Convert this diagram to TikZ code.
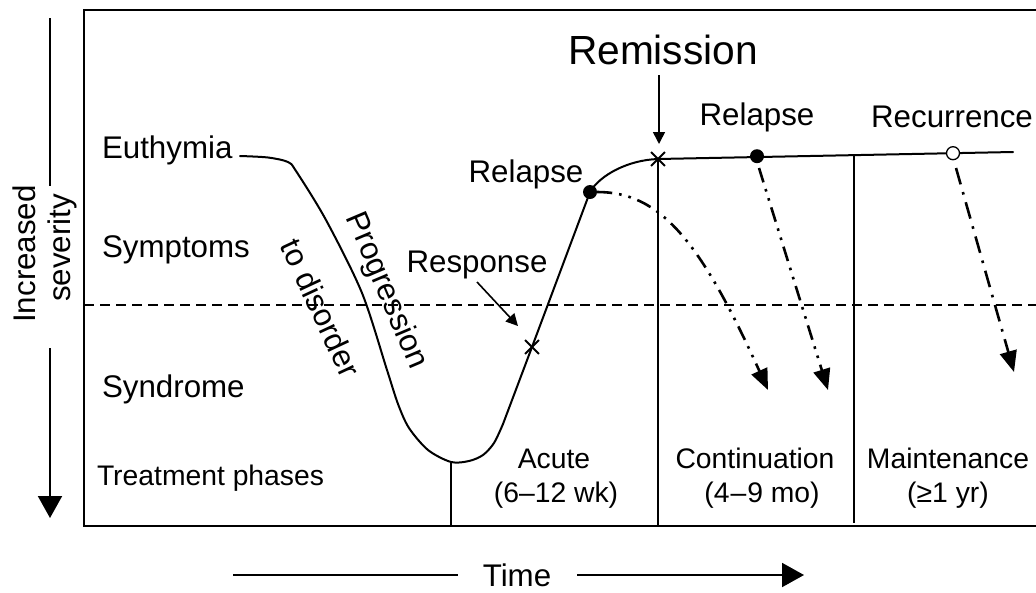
\documentclass[tikz,border=0pt]{standalone}
\usepackage{fontspec}
\setmainfont{Liberation Sans}
\usetikzlibrary{arrows.meta,shapes.misc}
\begin{document}
\begin{tikzpicture}[x=1pt,y=-1pt,
  lbl/.style={font=\fontsize{31.3}{36}\selectfont, inner sep=0pt, outer sep=0pt},
  sml/.style={font=\fontsize{28.3}{34}\selectfont, inner sep=0pt, outer sep=0pt},
  big/.style={font=\fontsize{40.7}{46}\selectfont, inner sep=0pt, outer sep=0pt},
  curve/.style={line width=2pt, line join=round, line cap=round},
  frameline/.style={line width=2pt},
  divider/.style={line width=2.4pt},
  xmark/.style={cross out, draw, line width=1.8pt, minimum size=12pt, inner sep=0pt},
  fdot/.style={circle, fill=black, minimum size=14pt, inner sep=0pt},
  odot/.style={circle, draw, fill=white, line width=1.3pt, minimum size=13pt, inner sep=0pt},
  ddarrow/.style={line width=2.6pt, dash pattern=on 15pt off 7pt on 2.6pt off 7pt on 2.6pt off 7pt, -{Triangle[length=21pt,width=17pt]}},
  darrow/.style={line width=2.6pt, dash pattern=on 17pt off 8pt on 2.6pt off 8pt, -{Triangle[length=21pt,width=17pt]}},
  thinarrow/.style={line width=1.6pt, -{Triangle[length=12pt,width=12pt]}},
  axisarrow/.style={line width=2pt, -{Triangle[length=22pt,width=24pt]}}
]
\useasboundingbox (0,0) rectangle (1036,592);

% frame
\draw[frameline] (1036,10) -- (84,10) -- (84,526) -- (1036,526);
\draw[line width=1.9pt, dash pattern=on 10pt off 6pt] (84,305) -- (1036,305);

% key points
\coordinate (start) at (240,156);
\coordinate (bot) at (451,462);
\coordinate (pxr) at (532,347);
\coordinate (pd1) at (590,192);
\coordinate (pxm) at (658,159);
\coordinate (pd2) at (757,156.2);
\coordinate (po1) at (953,153.2);
\coordinate (lineend) at (1013,152);

% vertical axis
\coordinate (axtop) at (50,18);
\coordinate (axtopend) at (50,186);
\coordinate (axbotstart) at (50,348);
\coordinate (axbotend) at (50,518);
\draw[line width=2pt] (axtop) -- (axtopend);
\draw[axisarrow] (axbotstart) -- (axbotend);
\node[lbl, rotate=90, anchor=base] (inc) at (35,254) {Increased};
\node[lbl, rotate=90, anchor=base] (sev) at (70,248) {severity};

% dividers
\coordinate (bot2) at (451,526);
\coordinate (xm2) at (658,526);
\coordinate (m1) at (854,154);
\coordinate (m2) at (854,523);
\draw[divider] (bot) -- (bot2);
\draw[divider] (pxm) -- (xm2);
\draw[divider] (m1) -- (m2);

% main curve
\draw[curve] plot[smooth, tension=0.5] coordinates {(240,156) (268,157.5) (288,162) (296,171) (326,220) (362,293) (387,370) (398,404) (409,428) (428,450) (451,462) (469,461) (483,455) (494,443) (503,424)}
  -- (pxr) -- (pd1) .. controls (600,175) and (628,160) .. (pxm) -- (lineend);

% markers
\node[xmark] (xresp) at (pxr) {};
\node[fdot] (d1) at (pd1) {};
\node[xmark] (xrem) at (pxm) {};
\node[fdot] (d2) at (pd2) {};
\node[odot] (o1) at (po1) {};

% labels
\node[lbl, anchor=base west] (euth) at (102,158) {Euthymia};
\node[lbl, anchor=base west] (symp) at (102,257) {Symptoms};
\node[lbl, anchor=base west] (synd) at (102,397) {Syndrome};
\node[sml, anchor=base west] (treat) at (97,485) {Treatment phases};
\node[lbl, rotate=-67] (prog) at (386,291) {Progression};
\node[lbl, rotate=-65] (todis) at (321,308) {to disorder};
\node[big, anchor=base] (remi) at (663,64) {Remission};
\node[lbl, anchor=base] (rel2) at (757,125) {Relapse};
\node[lbl, anchor=base] (recur) at (952,127) {Recurrence};
\node[lbl, anchor=base] (rel1) at (526,182) {Relapse};
\node[lbl, anchor=base] (resp) at (477,272) {Response};
\node[sml, anchor=base] (acute) at (554,468) {Acute};
\node[sml, anchor=base] (acutet) at (556,502) {(6–12 wk)};
\node[sml, anchor=base] (cont) at (755,468) {Continuation};
\node[sml, anchor=base] (contt) at (762,502) {(4\kern1pt–\kern1pt9 mo)};
\node[sml, anchor=base] (maint) at (948,468) {Maintenance};
\node[sml, anchor=base] (maintt) at (948,502) {(≥1 yr)};
\node[lbl, anchor=base] (time) at (517,586) {Time};

% pointer arrows
\coordinate (remA) at (659,75);
\coordinate (remB) at (659,144);
\draw[thinarrow] (remA) -- (remB);
\coordinate (respA) at (477,282);
\coordinate (respB) at (518,326);
\draw[thinarrow] (respA) -- (respB);

% relapse / recurrence trajectories
\coordinate (t1) at (768,390);
\coordinate (s2) at (759,168);
\coordinate (t2) at (828,390);
\coordinate (s3) at (956,168);
\coordinate (t3) at (1014,372);
\draw[ddarrow] (d1.east) .. controls (660,192) and (700,240) .. (t1);
\draw[ddarrow] (s2) -- (t2);
\draw[darrow] (s3) -- (t3);

% time axis
\coordinate (tl) at (233,575);
\coordinate (tlend) at (458,575);
\coordinate (trs) at (577,575);
\coordinate (tre) at (804,575);
\draw[line width=2pt] (tl) -- (tlend);
\draw[axisarrow] (trs) -- (tre);
\end{tikzpicture}
\end{document}
